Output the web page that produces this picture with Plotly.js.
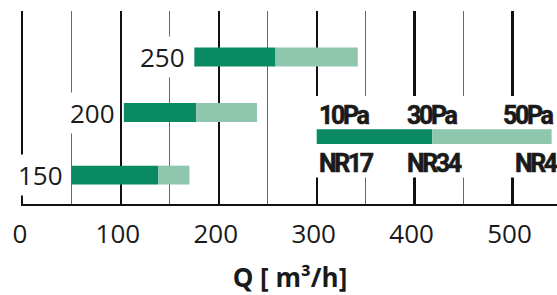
<!DOCTYPE html>
<html>
<head>
<meta charset="utf-8">
<script src="https://cdn.plot.ly/plotly-3.0.1.min.js"></script>
<style>
  html, body { margin: 0; padding: 0; background: #fff; }
  #chart { width: 557px; height: 295px; }
</style>
</head>
<body>
<div id="chart"></div>
<script>
// ---- data ----
const sizes      = ['150', '200', '250'];
const rangeStart = [50, 103, 175];   // start of dark segment (10 Pa / NR17)
const rangeMid   = [138, 177, 258];  // 30 Pa / NR34
const rangeEnd   = [170, 239, 342];  // 50 Pa / NR41

const keyStart = 300, keyMid = 418, keyEnd = 540;
const keyTop    = ['10Pa', '30Pa', '50Pa'];
const keyBottom = ['NR17', 'NR34', 'NR41'];

const xTicks = [0, 100, 200, 300, 400, 500];
const xTitle = 'Q [ m³/h]';

// ---- layout constants (positions / styles) ----
const rowY = [0, 1.06, 2];
const keyY = 0.65;
const DARK = '#0a8a62';
const LIGHT = '#8fc6ae';
const TXT = '#1a1a1a';
const KEY_FONT = 'Roboto, "Liberation Sans", sans-serif';
const tight = t => '<span style="letter-spacing:-2.4px;stroke:#1a1a1a;stroke-width:0.6px">' + t + '</span>';

const darkLen  = rangeMid.map((m, i) => m - rangeStart[i]);
const lightLen = rangeEnd.map((e, i) => e - rangeMid[i]);

const traces = [
  { type: 'bar', orientation: 'h', y: rowY, base: rangeStart, x: darkLen,
    width: 0.32, marker: { color: DARK }, hoverinfo: 'skip' },
  { type: 'bar', orientation: 'h', y: rowY, base: rangeMid, x: lightLen,
    width: 0.32, marker: { color: LIGHT }, hoverinfo: 'skip' },
  { type: 'bar', orientation: 'h', y: [keyY], base: [keyStart], x: [keyMid - keyStart],
    width: 0.25, marker: { color: DARK }, hoverinfo: 'skip' },
  { type: 'bar', orientation: 'h', y: [keyY], base: [keyMid], x: [keyEnd - keyMid],
    width: 0.25, marker: { color: LIGHT }, hoverinfo: 'skip' }
];

const annotations = [];
sizes.forEach((s, i) => {
  annotations.push({
    x: rangeStart[i], y: rowY[i], xref: 'x', yref: 'y', text: s,
    xanchor: 'right', yanchor: 'middle', xshift: -6, showarrow: false,
    bgcolor: '#fff', borderpad: 2,
    font: { family: '"Open Sans", sans-serif', size: 26, color: TXT }
  });
});
const keyX = [keyStart, keyMid, keyEnd];
const topAnchor = ['left', 'center', 'right'];
const topShift = [0, 0, 3];
const botAnchor = ['left', 'center', 'left'];
const botShift = [0, 2, -39];
keyTop.forEach((t, i) => {
  annotations.push({
    x: keyX[i], y: keyY, xref: 'x', yref: 'y', text: tight(t),
    xanchor: topAnchor[i], xshift: topShift[i], yanchor: 'middle', yshift: 21,
    showarrow: false, font: { family: KEY_FONT, size: 25, weight: 'bold', color: TXT }
  });
});
keyBottom.forEach((t, i) => {
  annotations.push({
    x: keyX[i], y: keyY, xref: 'x', yref: 'y', text: tight(t),
    xanchor: botAnchor[i], xshift: botShift[i], yanchor: 'middle', yshift: -27,
    showarrow: false, font: { family: KEY_FONT, size: 25, weight: 'bold', color: TXT }
  });
});

const layout = {
  width: 557, height: 295,
  margin: { l: 23, r: 0, t: 11, b: 91, pad: 0 },
  paper_bgcolor: '#fff', plot_bgcolor: '#fff',
  showlegend: false, barmode: 'overlay',
  xaxis: {
    range: [0, 545.5], tickvals: xTicks, ticktext: xTicks.map(String),
    showgrid: true, gridcolor: '#111', gridwidth: 2.2,
    minor: { dtick: 50, tick0: 0, showgrid: true, gridcolor: '#666', gridwidth: 1 },
    zeroline: false, showline: true, linecolor: '#111', linewidth: 2.2,
    ticks: '', ticklabelstandoff: 6, ticklabelshift: -3,
    tickfont: { family: '"Open Sans", sans-serif', size: 26, color: TXT },
    title: { text: '<b>' + xTitle + '</b>', standoff: 19,
             font: { family: '"Open Sans", sans-serif', size: 26, color: TXT } },
    fixedrange: true
  },
  yaxis: {
    range: [-0.49, 2.78], showgrid: false, zeroline: false,
    showticklabels: false, ticks: '',
    showline: true, linecolor: '#111', linewidth: 2.2, fixedrange: true
  },
  shapes: [{
    type: 'rect', layer: 'between', xref: 'x', yref: 'y',
    x0: keyStart - 6, x1: 600, y0: keyY - 0.69, y1: keyY + 0.69,
    fillcolor: '#fff', line: { width: 0 }
  }],
  annotations: annotations
};

Plotly.newPlot('chart', traces, layout, { displayModeBar: false, staticPlot: true });
</script>
</body>
</html>
